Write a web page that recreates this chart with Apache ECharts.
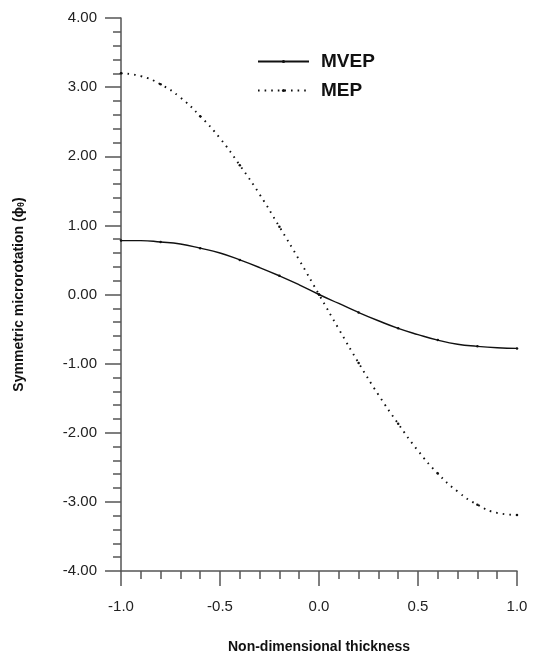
<!DOCTYPE html>
<html>
<head>
<meta charset="utf-8">
<script src="https://cdn.jsdelivr.net/npm/echarts@6/dist/echarts.min.js"></script>
<style>
  html, body { margin: 0; padding: 0; background: #fff; }
  #chart { width: 533px; height: 660px; }
</style>
</head>
<body>
<div id="chart"></div>
<script>
// thickness positions (x)
const thickness = [-1.0, -0.9, -0.8, -0.7, -0.6, -0.5, -0.4, -0.3, -0.2, -0.1, 0.0,
  0.1, 0.2, 0.3, 0.4, 0.5, 0.6, 0.7, 0.8, 0.9, 1.0]
// MVEP symmetric microrotation
const mvep = [0.78, 0.78, 0.76, 0.73, 0.67, 0.60, 0.50, 0.39, 0.27, 0.14, 0.00,
  -0.13, -0.26, -0.38, -0.49, -0.58, -0.66, -0.72, -0.75, -0.77, -0.78]
// MEP symmetric microrotation
const mep = [3.20, 3.16, 3.04, 2.85, 2.58, 2.26, 1.87, 1.45, 0.98, 0.50, 0.00,
  -0.50, -0.99, -1.45, -1.87, -2.26, -2.59, -2.85, -3.04, -3.16, -3.19]

const font = '"Liberation Sans", Arial, sans-serif'
const axisColor = '#555'

const pairs = ys => thickness.map((x, i) => [x, ys[i]])
const markerSize = (v, p) => (p.dataIndex % 2 === 0 ? 2.5 : 0)

const chart = echarts.init(document.getElementById('chart'), null, { renderer: 'canvas' })

chart.setOption({
  backgroundColor: '#fff',
  animation: false,
  textStyle: { fontFamily: font },
  grid: { left: 121, right: 16, top: 18, bottom: 89, outerBoundsMode: 'none', containLabel: false },
  legend: {
    orient: 'vertical',
    left: 257,
    top: 52,
    padding: 0,
    itemWidth: 51,
    itemHeight: 4,
    itemGap: 10,
    textStyle: { fontFamily: font, fontSize: 19, fontWeight: 'bold', color: '#111', padding: [0, 0, 0, 7] },
    data: ['MVEP', 'MEP']
  },
  xAxis: {
    type: 'value',
    min: -1,
    max: 1,
    interval: 0.5,
    name: 'Non-dimensional thickness',
    nameLocation: 'middle',
    nameGap: 69,
    nameTextStyle: { fontFamily: font, fontSize: 14, fontWeight: 'bold', color: '#111' },
    axisLine: { show: true, onZero: false, lineStyle: { color: axisColor, width: 1.5 } },
    axisTick: { show: true, inside: false, length: 15, lineStyle: { color: axisColor, width: 1.5 } },
    minorTick: { show: true, splitNumber: 5, length: 8, lineStyle: { color: axisColor, width: 1.5 } },
    axisLabel: { margin: 28, fontSize: 15, color: '#222', formatter: v => v.toFixed(1) },
    splitLine: { show: false }
  },
  yAxis: {
    type: 'value',
    min: -4,
    max: 4,
    interval: 1,
    name: '{a|Symmetric microrotation (}{b|ϕ}{c|θ}{a|)}',
    nameLocation: 'middle',
    nameGap: 95,
    nameTextStyle: {
      rich: {
        a: { fontFamily: font, fontSize: 14, fontWeight: 'bold', color: '#111' },
        b: { fontFamily: font, fontSize: 14, fontWeight: 'bold', color: '#111' },
        c: { fontFamily: font, fontSize: 9, fontWeight: 'bold', color: '#111', verticalAlign: 'bottom', lineHeight: 14 }
      }
    },
    axisLine: { show: true, onZero: false, lineStyle: { color: axisColor, width: 1.5 } },
    axisTick: { show: true, inside: false, length: 16, lineStyle: { color: axisColor, width: 1.5 } },
    minorTick: { show: true, splitNumber: 5, length: 8, lineStyle: { color: axisColor, width: 1.5 } },
    axisLabel: { margin: 24, fontSize: 15, color: '#222', formatter: v => v.toFixed(2) },
    splitLine: { show: false }
  },
  series: [
    {
      name: 'MVEP',
      type: 'line',
      data: pairs(mvep),
      smooth: true,
      symbol: 'circle',
      symbolSize: markerSize,
      itemStyle: { color: '#111' },
      lineStyle: { color: '#111', width: 1.4 }
    },
    {
      name: 'MEP',
      type: 'line',
      data: pairs(mep),
      smooth: true,
      symbol: 'circle',
      symbolSize: markerSize,
      itemStyle: { color: '#111' },
      lineStyle: { color: '#111', width: 1.9, type: [1.6, 5] }
    }
  ]
})
</script>
</body>
</html>
